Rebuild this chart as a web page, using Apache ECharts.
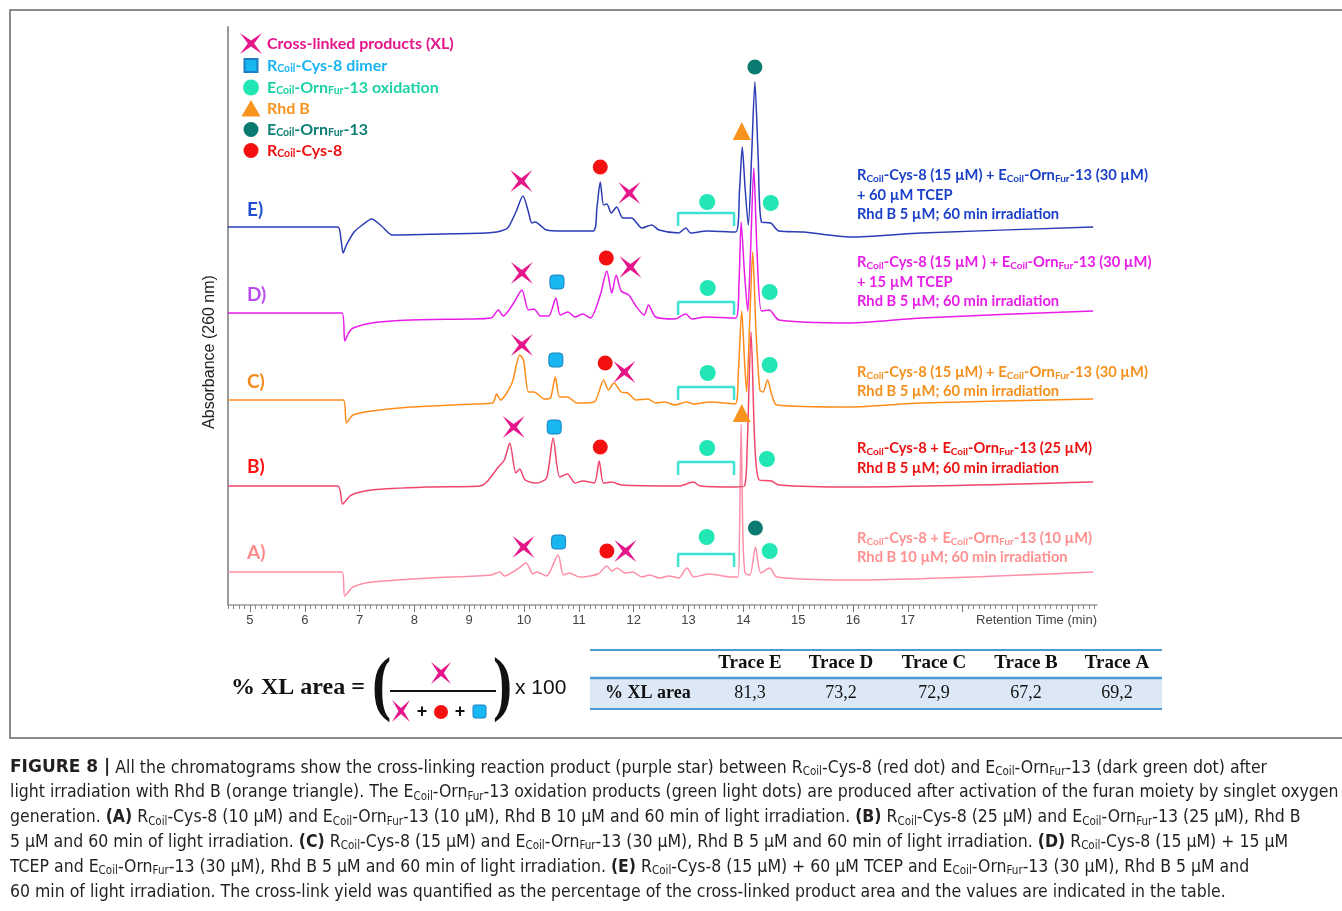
<!DOCTYPE html>
<html>
<head>
<meta charset="utf-8">
<script src="https://cdn.jsdelivr.net/npm/echarts@6/dist/echarts.min.js"></script>
<style>
  html, body { margin: 0; padding: 0; background: #fff; }
  #chart { width: 1342px; height: 911px; }
</style>
</head>
<body>
<div id="chart"></div>
<script>
// Retention time (min) vs absorbance (signal above each trace's own baseline).
const traceNames = ['E)', 'D)', 'C)', 'B)', 'A)']
const traceOffsets = [378, 292, 205, 119, 33]

const traceE = [
  [4.6, 0], [6.6, 0], [6.66, -12], [6.7, -26], [6.76, -18], [6.9, -5], [7.05, 2], [7.22, 8], [7.4, 1],
  [7.6, -8], [8.5, -7], [9.3, -6], [9.5, -5], [9.7, -1], [9.85, 15], [9.98, 31], [10.08, 15], [10.14, 4],
  [10.2, 5], [10.41, -3], [10.7, -4], [11.26, -4], [11.33, 20], [11.39, 45], [11.45, 22], [11.51, 23],
  [11.59, 14], [11.69, 20], [11.8, 9], [11.96, 9], [12.15, -1], [12.33, 2], [12.46, -3], [12.82, -6],
  [12.95, -1], [13.04, -6], [13.34, -4], [13.86, -5], [13.93, 37], [13.98, 80], [14.03, 40], [14.09, 2],
  [14.15, 70], [14.21, 145], [14.27, 70], [14.33, 5], [14.5, 4], [14.65, -4], [15.1, -5], [15.95, -10],
  [17.25, -6], [20.38, 0]
]
const traceD = [
  [4.6, 0], [6.68, 0], [6.73, -28], [6.8, -20], [6.88, -15], [7.22, -10], [7.93, -7], [8.98, -6], [9.4, -5],
  [9.53, 3], [9.62, -3], [9.81, 10], [9.96, 23], [10.08, 3], [10.18, 4], [10.3, -3], [10.45, -3], [10.58, 15],
  [10.66, -2], [10.8, 1], [10.93, -4], [11.07, -1], [11.21, -5], [11.39, 18], [11.51, 42], [11.6, 20],
  [11.68, 38], [11.77, 22], [11.91, 18], [12.04, 7], [12.19, -2], [12.27, 8], [12.4, -4], [12.75, -6],
  [12.95, -1], [13.06, -6], [13.31, -4], [13.86, -5], [13.92, 30], [13.96, 91], [14.02, 40], [14.08, 2],
  [14.13, 60], [14.19, 145], [14.25, 60], [14.33, 2], [14.47, 3], [14.65, -7], [15.95, -10], [17.25, -5],
  [20.38, 2]
]
const traceC = [
  [4.6, 0], [6.7, 0], [6.76, -23], [6.88, -15], [7.22, -11], [7.93, -7], [9.11, -4], [9.43, -3], [9.5, 6],
  [9.57, 0], [9.78, 17], [9.92, 45], [9.99, 40], [10.08, 8], [10.18, 8], [10.37, 1], [10.48, 2], [10.57, 23],
  [10.65, 3], [10.79, 3], [10.97, -3], [11.28, -2], [11.45, 20], [11.54, 10], [11.64, 17], [11.77, 8],
  [11.89, 7], [12.04, 0], [12.26, 1], [12.4, -3], [12.57, -2], [12.75, -5], [12.96, -2], [13.1, -4],
  [13.38, -2], [13.85, -4], [13.91, 30], [13.97, 89], [14.02, 40], [14.06, 8], [14.11, 70], [14.17, 148],
  [14.23, 70], [14.3, 10], [14.36, 8], [14.44, 20], [14.52, 5], [14.61, -5], [15.95, -7], [17.25, -3],
  [20.38, 1]
]
const traceB = [
  [4.6, 0], [6.6, 0], [6.69, -18], [6.85, -9], [7.23, -4], [8.28, -1], [9.19, 0], [9.32, 4], [9.53, 19],
  [9.64, 26], [9.74, 43], [9.85, 13], [9.92, 17], [10.02, 6], [10.23, 3], [10.41, 8], [10.53, 48], [10.65, 9],
  [10.79, 12], [10.93, 3], [11.07, 5], [11.28, 3], [11.37, 25], [11.45, 3], [11.6, 4], [11.77, 1], [12.82, 0],
  [13.09, 4], [13.21, 0], [13.86, -1], [14.02, 0], [14.07, 40], [14.14, 154], [14.21, 40], [14.29, 6],
  [14.51, 5], [14.65, 1], [15.95, -1], [20.38, 4]
]
const traceA = [
  [4.6, 0], [6.68, 0], [6.73, -24], [6.88, -15], [7.23, -10], [8.28, -6], [9.39, -3], [9.56, 0], [9.64, -4],
  [9.88, 3], [10.04, 9], [10.16, -2], [10.23, 0], [10.41, -4], [10.62, 17], [10.72, -3], [10.83, -1],
  [11.0, -5], [11.35, -2], [11.51, 6], [11.6, 1], [11.7, 4], [11.84, -1], [11.98, 0], [12.15, -5], [12.29, -3],
  [12.47, -6], [12.64, -4], [12.82, -6], [12.97, 4], [13.1, -5], [13.36, -2], [13.79, -5], [13.9, -5],
  [13.93, 40], [13.96, 148], [13.99, 40], [14.03, -1], [14.12, -3], [14.22, 25], [14.32, -1], [14.48, 4],
  [14.61, -5], [15.95, -8], [20.38, 0]
]
const traces = [traceE, traceD, traceC, traceB, traceA]
const traceColors = ['#2c3cb4', '#e81ce8', '#ff8c1a', '#f0466e', '#ff8fa8']
const labelColors = ['#1f4fd0', '#b84cf0', '#f58a1f', '#ff1414', '#ff8a8a']

// peak annotations, [time, absorbance] in the stacked frame
const xlStars = [[9.95, 424], [11.92, 412], [9.96, 332], [11.94, 338], [9.96, 260], [11.83, 233], [9.81, 178], [9.99, 58], [11.85, 54]]
const dimerSquares = [[10.6, 323], [10.58, 245], [10.55, 178], [10.63, 63]]
const oxDots = [[13.34, 403], [14.5, 402], [13.35, 317], [14.48, 313], [13.35, 232], [14.48, 240], [13.34, 157], [14.43, 146], [13.33, 68], [14.48, 54]]
const rhdTriangles = [[13.97, 474], [13.97, 192]]
const eornDots = [[14.21, 538], [14.22, 77]]
const rcysDots = [[11.39, 438], [11.5, 347], [11.48, 242], [11.39, 158], [11.51, 54]]

// oxidation window bracket (min) and its top level per trace
const bracketRange = [12.81, 13.83]
const bracketTops = [392, 303, 218, 143, 51]
const bracketDrop = 13

const xTicks = [5, 6, 7, 8, 9, 10, 11, 12, 13, 14, 15, 16, 17, 18, 19, 20]
const xTickLabels = [5, 6, 7, 8, 9, 10, 11, 12, 13, 14, 15, 16, 17]

const tableHeads = ['Trace E', 'Trace D', 'Trace C', 'Trace B', 'Trace A']
const xlArea = [81.3, 73.2, 72.9, 67.2, 69.2]

const conditions = [
  ['R_{Coil}-Cys-8 (15 µM) + E_{Coil}-Orn_{Fur}-13 (30 µM)', '+ 60 µM TCEP', 'Rhd B 5 µM; 60 min irradiation'],
  ['R_{Coil}-Cys-8 (15 µM ) + E_{Coil}-Orn_{Fur}-13 (30 µM)', '+ 15 µM TCEP', 'Rhd B 5 µM; 60 min irradiation'],
  ['R_{Coil}-Cys-8 (15 µM) + E_{Coil}-Orn_{Fur}-13 (30 µM)', 'Rhd B 5 µM; 60 min irradiation'],
  ['R_{Coil}-Cys-8 + E_{Coil}-Orn_{Fur}-13 (25 µM)', 'Rhd B 5 µM; 60 min irradiation'],
  ['R_{Coil}-Cys-8 + E_{Coil}-Orn_{Fur}-13 (10 µM)', 'Rhd B 10 µM; 60 min irradiation']
]
const conditionColors = ['#1a3fc8', '#e61ee6', '#f5901e', '#ee1111', '#ff9090']

const caption = [
  '#FIGURE 8 |# All the chromatograms show the cross-linking reaction product (purple star) between R_{Coil}-Cys-8 (red dot) and E_{Coil}-Orn_{Fur}-13 (dark green dot) after',
  'light irradiation with Rhd B (orange triangle). The E_{Coil}-Orn_{Fur}-13 oxidation products (green light dots) are produced after activation of the furan moiety by singlet oxygen',
  'generation. *(A)* R_{Coil}-Cys-8 (10 µM) and E_{Coil}-Orn_{Fur}-13 (10 µM), Rhd B 10 µM and 60 min of light irradiation. *(B)* R_{Coil}-Cys-8 (25 µM) and E_{Coil}-Orn_{Fur}-13 (25 µM), Rhd B',
  '5 µM and 60 min of light irradiation. *(C)* R_{Coil}-Cys-8 (15 µM) and E_{Coil}-Orn_{Fur}-13 (30 µM), Rhd B 5 µM and 60 min of light irradiation. *(D)* R_{Coil}-Cys-8 (15 µM) + 15 µM',
  'TCEP and E_{Coil}-Orn_{Fur}-13 (30 µM), Rhd B 5 µM and 60 min of light irradiation. *(E)* R_{Coil}-Cys-8 (15 µM) + 60 µM TCEP and E_{Coil}-Orn_{Fur}-13 (30 µM), Rhd B 5 µM and',
  '60 min of light irradiation. The cross-link yield was quantified as the percentage of the cross-linked product area and the values are indicated in the table.'
]

const STAR_PTS = [[0, 0], [0.5, 0.36], [1, 0], [0.64, 0.5], [1, 1], [0.5, 0.64], [0, 1], [0.36, 0.5]]
const STAR = 'path://M0,0L50,36L100,0L64,50L100,100L50,64L0,100L36,50Z'
// legend icons padded inside a 22x21 box so they keep their own size
const LEG_STAR = 'path://M0,0L11,7.6L22,0L14.1,10.5L22,21L11,13.4L0,21L7.9,10.5Z'
const LEG_SQUARE = 'path://M0,0M22,21M4.5,4L17.5,4L17.5,17L4.5,17Z'
const LEG_CIRCLE = 'path://M0,0M22,21M11,2.5A8,8 0 1 1 11,18.5A8,8 0 1 1 11,2.5Z'
const LEG_DOT = 'path://M0,0M22,21M11,3A7.5,7.5 0 1 1 11,18A7.5,7.5 0 1 1 11,3Z'
const LEG_TRI = 'path://M0,0M22,21M11,2L20.5,18.5L1.5,18.5Z'
const LABEL_FONT = 'Lato, "Open Sans", sans-serif'
const CAP_FONT = '"Liberation Sans Narrow", "DejaVu Sans Condensed", sans-serif'

// "_{x}" -> subscript, "*x*" -> bold, "#x#" -> heading
function rich(str) {
  const out = []
  const re = /_\{([^}]*)\}|\*([^*]*)\*|#([^#]*)#/g
  let last = 0, m
  while ((m = re.exec(str))) {
    if (m.index > last) out.push('{n|' + str.slice(last, m.index) + '}')
    if (m[1] != null) out.push('{s|' + m[1] + '}')
    else if (m[2] != null) out.push('{b|' + m[2] + '}')
    else out.push('{h|' + m[3] + '}')
    last = re.lastIndex
  }
  if (last < str.length) out.push('{n|' + str.slice(last) + '}')
  return out.join('')
}

function star(x, y, w, h, color) {
  return { type: 'polygon', shape: { points: STAR_PTS.map(([px, py]) => [x + px * w, y + py * h]) }, style: { fill: color } }
}

const annRich = {
  n: { fontFamily: LABEL_FONT, fontWeight: 'bold', fontSize: 14.7, lineHeight: 18 },
  s: { fontFamily: LABEL_FONT, fontWeight: 'bold', fontSize: 10, lineHeight: 10, verticalAlign: 'bottom' }
}

const markerSets = [
  { name: 'Cross-linked products (XL)', data: xlStars, symbol: STAR, icon: LEG_STAR, size: 22, color: '#e5168a', text: '#e5168a' },
  { name: 'R_{Coil}-Cys-8 dimer', data: dimerSquares, symbol: 'roundRect', icon: LEG_SQUARE, size: 14, color: '#19b7f2', border: '#1a7fc0', text: '#1ab4f0' },
  { name: 'E_{Coil}-Orn_{Fur}-13 oxidation', data: oxDots, symbol: 'circle', icon: LEG_CIRCLE, size: 16, color: '#22e6b4', text: '#1ed2a6' },
  { name: 'Rhd B', data: rhdTriangles, symbol: 'triangle', icon: LEG_TRI, size: 18, color: '#f7931e', text: '#f7931e' },
  { name: 'E_{Coil}-Orn_{Fur}-13', data: eornDots, symbol: 'circle', icon: LEG_DOT, size: 15, color: '#0b7a70', text: '#0e7f76' },
  { name: 'R_{Coil}-Cys-8', data: rcysDots, symbol: 'circle', icon: LEG_DOT, size: 15, color: '#f41010', text: '#ee1111' }
]

const series = []
traces.forEach((tr, i) => {
  series.push({
    type: 'line', name: traceNames[i], xAxisIndex: 0, yAxisIndex: 0,
    data: tr.map(([t, v]) => [t, v + traceOffsets[i]]),
    showSymbol: false, smooth: 0.25, silent: true,
    lineStyle: { color: traceColors[i], width: 1.5 }, z: 2 + (4 - i) * 0.1
  })
})
bracketTops.forEach((top) => {
  series.push({
    type: 'line', xAxisIndex: 0, yAxisIndex: 0, silent: true, showSymbol: false,
    data: [[bracketRange[0], top - bracketDrop], [bracketRange[0], top], [bracketRange[1], top], [bracketRange[1], top - bracketDrop]],
    lineStyle: { color: '#3ee3d2', width: 2.5 }, z: 3
  })
})
markerSets.forEach((m) => {
  series.push({
    type: 'scatter', name: m.name, xAxisIndex: 0, yAxisIndex: 0, data: m.data,
    symbol: m.symbol, symbolSize: m.size, silent: true,
    itemStyle: { color: m.color, borderColor: m.border || m.color, borderWidth: m.border ? 1 : 0, opacity: 1 },
    z: 5
  })
})

// minor ticks every 0.1 min
const minorTicks = []
for (let k = 46; k <= 204; k++) if (k % 10) minorTicks.push(k / 10)

const graphic = []
// frame round the figure
graphic.push({ type: 'rect', shape: { x: 10, y: 10, width: 1345, height: 728 }, style: { fill: 'none', stroke: '#666', lineWidth: 1.5 }, silent: true })

graphic.push({
  type: 'text', x: 210, y: 352, rotation: Math.PI / 2,
  style: { text: 'Absorbance (260 nm)', fontFamily: '"Liberation Sans", Arial, sans-serif', fontSize: 16, fill: '#222', align: 'center', verticalAlign: 'middle' }
})

const labelY = [210, 295, 382, 467, 553]
traceNames.forEach((name, i) => {
  graphic.push({
    type: 'text', x: 247, y: labelY[i],
    style: { text: name, fontFamily: LABEL_FONT, fontWeight: 'bold', fontSize: 19, fill: labelColors[i], verticalAlign: 'middle' }
  })
})

const condY = [[175, 195, 214], [262, 282, 301], [372, 391], [448, 468], [538, 557]]
conditions.forEach((lines, i) => {
  lines.forEach((line, j) => {
    graphic.push({
      type: 'text', x: 857, y: condY[i][j],
      style: { text: rich(line), rich: annRich, fill: conditionColors[i], verticalAlign: 'middle' }
    })
  })
})

// % XL area formula
const serif = '"Liberation Serif", "Times New Roman", serif'
const sans = '"Liberation Sans", Arial, sans-serif'
graphic.push({ type: 'text', x: 231, y: 688, style: { text: '% XL area =', fontFamily: serif, fontWeight: 'bold', fontSize: 24, fill: '#111', verticalAlign: 'middle' } })
graphic.push({ type: 'text', x: 372, y: 688, scaleX: 0.8, style: { text: '(', fontFamily: serif, fontWeight: 'bold', fontSize: 72, fill: '#111', verticalAlign: 'middle' } })
graphic.push({ type: 'text', x: 493, y: 688, scaleX: 0.8, style: { text: ')', fontFamily: serif, fontWeight: 'bold', fontSize: 72, fill: '#111', verticalAlign: 'middle' } })
graphic.push({ type: 'line', shape: { x1: 390, y1: 691, x2: 496, y2: 691 }, style: { stroke: '#111', lineWidth: 2 } })
graphic.push(star(431, 662, 20, 22, '#e5168a'))
graphic.push(star(392, 700, 18, 22, '#e5168a'))
graphic.push({ type: 'text', x: 422, y: 712, style: { text: '+', fontFamily: sans, fontWeight: 'bold', fontSize: 18, fill: '#111', align: 'center', verticalAlign: 'middle' } })
graphic.push({ type: 'circle', shape: { cx: 441, cy: 712, r: 7 }, style: { fill: '#f41010' } })
graphic.push({ type: 'text', x: 460, y: 712, style: { text: '+', fontFamily: sans, fontWeight: 'bold', fontSize: 18, fill: '#111', align: 'center', verticalAlign: 'middle' } })
graphic.push({ type: 'rect', shape: { x: 473, y: 705, width: 13, height: 13, r: 2 }, style: { fill: '#19b7f2', stroke: '#1a7fc0', lineWidth: 1 } })
graphic.push({ type: 'text', x: 515, y: 688, style: { text: 'x 100', fontFamily: sans, fontSize: 21, fill: '#111', verticalAlign: 'middle' } })

// table
const colX = [750, 841, 934, 1026, 1117]
graphic.push({ type: 'rect', shape: { x: 590, y: 678, width: 572, height: 31 }, style: { fill: '#dce8f5' }, silent: true })
graphic.push({ type: 'line', shape: { x1: 590, y1: 650, x2: 1162, y2: 650 }, style: { stroke: '#4a9ad4', lineWidth: 2 } })
graphic.push({ type: 'line', shape: { x1: 590, y1: 678, x2: 1162, y2: 678 }, style: { stroke: '#4a9ad4', lineWidth: 2.5 } })
graphic.push({ type: 'line', shape: { x1: 590, y1: 709, x2: 1162, y2: 709 }, style: { stroke: '#4a9ad4', lineWidth: 2 } })
graphic.push({ type: 'text', x: 605, y: 693, style: { text: '% XL area', fontFamily: serif, fontWeight: 'bold', fontSize: 18, fill: '#111', verticalAlign: 'middle' } })
tableHeads.forEach((h, i) => {
  graphic.push({ type: 'text', x: colX[i], y: 663, style: { text: h, fontFamily: serif, fontWeight: 'bold', fontSize: 19, fill: '#111', align: 'center', verticalAlign: 'middle' } })
  graphic.push({ type: 'text', x: colX[i], y: 693, style: { text: xlArea[i].toFixed(1).replace('.', ','), fontFamily: serif, fontSize: 18, fill: '#111', align: 'center', verticalAlign: 'middle' } })
})

// caption
const capRich = {
  n: { fontFamily: CAP_FONT, fontSize: 17.5, lineHeight: 20 },
  s: { fontFamily: CAP_FONT, fontSize: 11.5, lineHeight: 11, verticalAlign: 'bottom' },
  b: { fontFamily: CAP_FONT, fontWeight: 'bold', fontSize: 17.5, lineHeight: 20 },
  h: { fontFamily: '"DejaVu Sans", sans-serif', fontWeight: 'bold', fontSize: 17, lineHeight: 20 }
}
caption.forEach((line, i) => {
  graphic.push({
    type: 'text', x: 10, y: 768 + i * 24.8,
    style: { text: rich(line), rich: capRich, fill: '#231f20', verticalAlign: 'middle' }
  })
})

const chart = echarts.init(document.getElementById('chart'), null, { renderer: 'canvas' })
chart.setOption({
  animation: false,
  backgroundColor: '#fff',
  grid: { left: 228, right: 245, top: 27, bottom: 306 },
  legend: {
    orient: 'vertical', left: 234, top: 28, itemWidth: 22, itemHeight: 21, itemGap: 0,
    selectedMode: false,
    data: markerSets.map((m) => ({ name: m.name, icon: m.icon, textStyle: { color: m.text } })),
    formatter: (name) => rich(name),
    textStyle: {
      fontFamily: LABEL_FONT, fontWeight: 'bold', fontSize: 16,
      rich: {
        n: { fontFamily: LABEL_FONT, fontWeight: 'bold', fontSize: 16, lineHeight: 18 },
        s: { fontFamily: LABEL_FONT, fontWeight: 'bold', fontSize: 10.5, lineHeight: 10, verticalAlign: 'bottom' }
      }
    }
  },
  xAxis: [
    {
      type: 'value', min: 4.6, max: 20.45, position: 'bottom',
      name: 'Retention Time (min)', nameLocation: 'end', nameGap: 0,
      nameTextStyle: { align: 'right', verticalAlign: 'top', padding: [9, 0, 0, 0], fontFamily: sans, fontSize: 13, color: '#444' },
      axisLine: { lineStyle: { color: '#9a9a9a', width: 1.5 } },
      axisTick: { customValues: xTicks, length: 7, lineStyle: { color: '#777' } },
      axisLabel: { customValues: xTickLabels, margin: 9, fontFamily: sans, fontSize: 13, color: '#444' },
      splitLine: { show: false }
    },
    {
      type: 'value', min: 4.6, max: 20.45, position: 'bottom', offset: 0,
      axisLine: { show: false },
      axisTick: { customValues: minorTicks, length: 4, lineStyle: { color: '#888' } },
      axisLabel: { show: false },
      splitLine: { show: false }
    }
  ],
  yAxis: {
    type: 'value', min: 0, max: 578,
    axisLine: { show: true, lineStyle: { color: '#9a9a9a', width: 2 } },
    axisTick: { show: false }, axisLabel: { show: false }, splitLine: { show: false }
  },
  series,
  graphic
})
</script>
</body>
</html>
